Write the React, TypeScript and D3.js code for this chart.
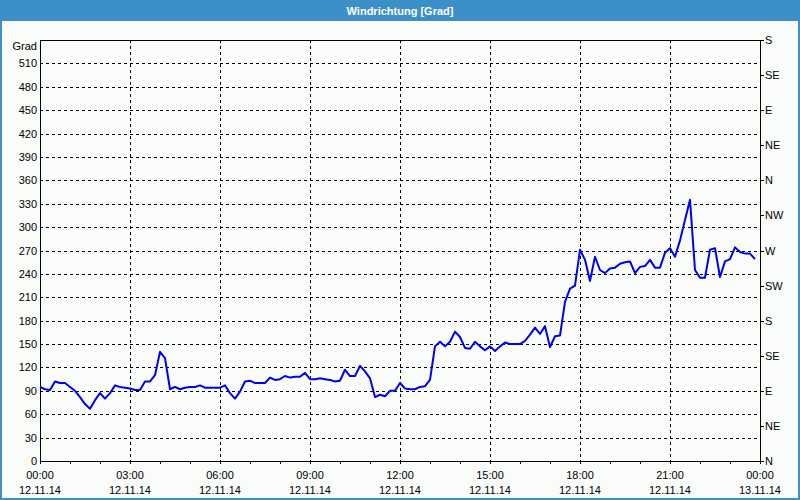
import React from "react";
import * as d3 from "d3";

// minutes since 12.11.14 00:00
const minutes = [
  0, 10, 20, 30, 40, 50, 60, 70, 80, 90, 100, 110, 120, 130, 140, 150, 160, 170, 180, 190,
  200, 210, 220, 230, 240, 250, 260, 270, 280, 290, 300, 310, 320, 330, 340, 350, 360, 370, 380, 390,
  400, 410, 420, 430, 440, 450, 460, 470, 480, 490, 500, 510, 520, 530, 540, 550, 560, 570, 580, 590,
  600, 610, 620, 630, 640, 650, 660, 670, 680, 690, 700, 710, 720, 730, 740, 750, 760, 770, 780, 790,
  800, 810, 820, 830, 840, 850, 860, 870, 880, 890, 900, 910, 920, 930, 940, 950, 960, 970, 980, 990,
  1000, 1010, 1020, 1030, 1040, 1050, 1060, 1070, 1080, 1090, 1100, 1110, 1120, 1130, 1140, 1150, 1160, 1170, 1180, 1190,
  1200, 1210, 1220, 1230, 1240, 1250, 1260, 1270, 1280, 1290, 1300, 1310, 1320, 1330, 1340, 1350, 1360, 1370, 1380, 1390,
  1400, 1410, 1420, 1430,
];

// wind direction in degrees
const degrees = [
  95, 92, 91, 102, 100, 100, 95, 90, 82, 73, 67, 78, 87, 80, 87, 97, 95, 94, 93, 91,
  91, 102, 102, 110, 140, 132, 92, 95, 92, 94, 95, 95, 97, 94, 94, 94, 94, 97, 87, 80,
  89, 102, 103, 100, 100, 100, 107, 104, 105, 109, 107, 108, 108, 113, 105, 105, 106, 105, 104, 102,
  103, 117, 109, 109, 122, 115, 106, 82, 85, 83, 90, 90, 100, 93, 92, 92, 95, 96, 104, 147,
  153, 147, 153, 166, 159, 145, 144, 153, 147, 142, 147, 141, 147, 152, 150, 150, 150, 154, 162, 171,
  163, 173, 146, 160, 161, 204, 221, 225, 271, 258, 231, 262, 245, 241, 247, 248, 253, 255, 256, 241,
  249, 250, 258, 248, 248, 267, 273, 262, 283, 309, 335, 245, 235, 235, 271, 273, 236, 256, 259, 274,
  268, 266, 266, 259,
];

const yTicks = [0, 30, 60, 90, 120, 150, 180, 210, 240, 270, 300, 330, 360, 390, 420, 450, 480, 510];
const compassValues = [0, 45, 90, 135, 180, 225, 270, 315, 360, 405, 450, 495, 540];
const compassLabels = ["N", "NE", "E", "SE", "S", "SW", "W", "NW", "N", "NE", "E", "SE", "S"];
const timeTickMinutes = [0, 180, 360, 540, 720, 900, 1080, 1260, 1440];
const timeLabels = ["00:00", "03:00", "06:00", "09:00", "12:00", "15:00", "18:00", "21:00", "00:00"];
const dateLabels = ["12.11.14", "12.11.14", "12.11.14", "12.11.14", "12.11.14", "12.11.14", "12.11.14", "12.11.14", "13.11.14"];
const title = "Windrichtung [Grad]";
const unitLabel = "Grad";

const W = 800;
const H = 500;
const L = 40, R = 760, T = 40, B = 461;
const FONT = "'Liberation Sans', Arial, sans-serif";

export default function App() {
  const x = d3.scaleLinear().domain([0, 1440]).range([L, R]);
  const y = d3.scaleLinear().domain([0, 540]).range([B, T]);
  const pts = minutes.map((m, i) => [m, degrees[i]] as [number, number]);
  const line = d3
    .line<[number, number]>()
    .x((d) => x(d[0]))
    .y((d) => y(d[1]));
  const hourTicks = d3.range(0, 1441, 60);
  const px = (v: number) => Math.round(v) + 0.5;

  return (
    <svg
      width={W}
      height={H}
      style={{ position: "absolute", left: 0, top: 0, display: "block" }}
      fontFamily={FONT}
    >
      <rect x={0} y={0} width={W} height={H} fill="#fafcfa" />
      <rect x={0} y={0} width={W} height={21} fill="#3d8fc8" />
      <text x={W / 2} y={15} textAnchor="middle" fill="#ffffff" fontSize={11} fontWeight="bold">
        {title}
      </text>
      {/* outer border */}
      <rect x={1} y={1} width={W - 2} height={H - 2} fill="none" stroke="#3d8fc8" strokeWidth={2} />

      {/* horizontal grid */}
      {yTicks
        .filter((v) => v > 0)
        .map((v) => (
          <line key={"hg" + v} x1={L} x2={R} y1={px(y(v))} y2={px(y(v))} stroke="#000" strokeDasharray="3,3" strokeWidth={1} />
        ))}
      {/* vertical grid */}
      {timeTickMinutes
        .filter((m) => m > 0 && m < 1440)
        .map((m) => (
          <line key={"vg" + m} x1={px(x(m))} x2={px(x(m))} y1={T} y2={B} stroke="#000" strokeDasharray="3,3" strokeWidth={1} />
        ))}

      {/* frame */}
      <rect x={L + 0.5} y={T + 0.5} width={R - L} height={B - T} fill="none" stroke="#000" strokeWidth={1} />

      {/* hourly ticks */}
      {hourTicks.map((m) => (
        <line key={"ht" + m} x1={px(x(m))} x2={px(x(m))} y1={B} y2={B + 3} stroke="#000" />
      ))}
      {/* right ticks */}
      {compassValues.map((v) => (
        <line key={"rt" + v} x1={R} x2={R + 4} y1={px(y(v))} y2={px(y(v))} stroke="#000" />
      ))}

      {/* left labels */}
      {yTicks.map((v) => (
        <text key={"yl" + v} x={37} y={y(v) + 4} textAnchor="end" fontSize={11} fill="#000">
          {v}
        </text>
      ))}
      <text x={37} y={T + 10} textAnchor="end" fontSize={11} fill="#000">
        {unitLabel}
      </text>

      {/* right labels */}
      {compassValues.map((v, i) => (
        <text key={"cl" + v} x={765} y={y(v) + 4} textAnchor="start" fontSize={11} fill="#000">
          {compassLabels[i]}
        </text>
      ))}

      {/* bottom labels */}
      {timeTickMinutes.map((m, i) => (
        <g key={"bl" + m}>
          <text x={x(m)} y={479} textAnchor="middle" fontSize={11} fill="#000">
            {timeLabels[i]}
          </text>
          <text x={x(m)} y={494} textAnchor="middle" fontSize={11} fill="#000">
            {dateLabels[i]}
          </text>
        </g>
      ))}

      {/* data line */}
      <path d={line(pts) || ""} fill="none" stroke="#0000ee" strokeWidth={2} strokeLinejoin="round" />
    </svg>
  );
}
